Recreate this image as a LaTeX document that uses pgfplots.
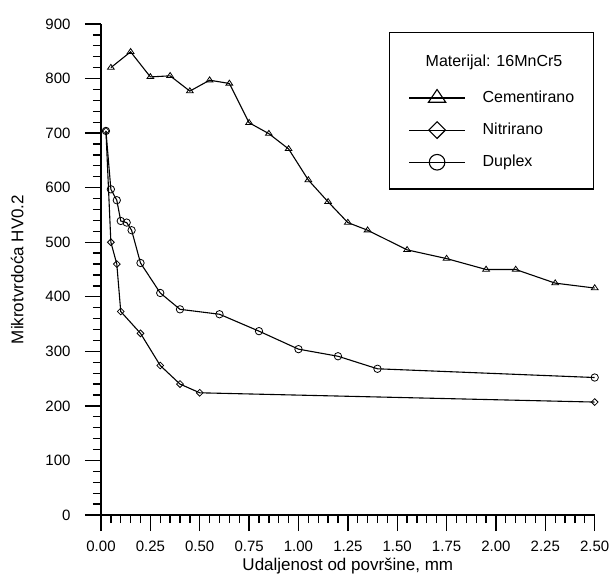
\documentclass[border=0pt]{standalone}
\usepackage{fontspec}
\setmainfont{Liberation Sans}
\usepackage{pgfplots}
\pgfplotsset{compat=1.18}

\begin{document}
\begin{tikzpicture}
% page = 613 x 576 px of the reference, axis origin at px (101,515)
\useasboundingbox (-101bp,-61bp) rectangle (512bp,515bp);
\begin{axis}[
  scale only axis,
  width=493.7bp, height=491bp,
  xmin=0, xmax=2.5, ymin=0, ymax=900,
  axis lines*=left,
  axis line style={line width=1.5bp},
  clip=false,
  xtick distance=0.25, minor x tick num=4,
  ytick distance=100, minor y tick num=4,
  tick align=outside,
  major tick length=16bp, minor tick length=8bp,
  every tick/.style={black, line width=1.3bp},
  /pgf/number format/assume math mode=true,
  xticklabel style={font=\fontsize{15bp}{17bp}\selectfont, yshift=-7bp,
    /pgf/number format/.cd, fixed, fixed zerofill, precision=2},
  yticklabel style={font=\fontsize{15bp}{17bp}\selectfont, xshift=-11bp},
  xlabel={Udaljenost od površine, mm},
  ylabel={Mikrotvrdoća HV0.2},
  label style={font=\fontsize{17bp}{19bp}\selectfont},
  xlabel style={yshift=1bp},
  ylabel style={yshift=15bp},
  legend style={at={(0.583,0.984)}, anchor=north west,
    draw=black, line width=1.3bp,
    font=\fontsize{16bp}{18bp}\selectfont,
    inner xsep=19bp, inner ysep=19bp,
    row sep=16bp,
    nodes={inner sep=0pt, text height=12bp, text depth=3.5bp},
    /tikz/every odd column/.append style={column sep=17bp}},
  legend cell align=left,
  legend image code/.code={
    \draw[mark repeat=2, mark phase=2, #1]
      plot coordinates {(0bp,0bp) (28bp,0bp) (56bp,0bp)};},
]
% legend: title row and three entries with large marks
\addlegendimage{empty legend}
\addlegendentry[text height=15bp, text depth=7bp]{\hspace{-57bp}Materijal: 16MnCr5}
\addlegendimage{black, line width=1.2bp, mark=triangle, mark size=10bp,
  mark options={fill=white, solid, line width=1.1bp, yscale=0.85}}
\addlegendentry{Cementirano}
\addlegendimage{black, line width=1.2bp, mark=square, mark size=5.9bp,
  mark options={fill=white, solid, line width=1.1bp, rotate=45}}
\addlegendentry{Nitrirano}
\addlegendimage{black, line width=1.2bp, mark=o, mark size=7.8bp,
  mark options={fill=white, solid, line width=1.1bp}}
\addlegendentry{Duplex}

% Cementirano
\addplot[black, line width=1.1bp, mark=triangle, forget plot,
  mark options={fill=white, solid, line width=0.8bp, yscale=0.85}, mark size=3.9bp]
  coordinates {
  (0.05,820) (0.15,849) (0.25,803) (0.35,805) (0.45,777) (0.55,797)
  (0.65,791) (0.75,719) (0.85,699) (0.95,671) (1.05,614) (1.15,574)
  (1.25,536) (1.35,522) (1.55,486) (1.75,470) (1.95,450) (2.10,450)
  (2.30,425) (2.50,416)};

% Nitrirano
\addplot[black, line width=1.1bp, mark=square, forget plot,
  mark options={fill=white, solid, line width=0.8bp, rotate=45}, mark size=2.4bp]
  coordinates {
  (0.025,704) (0.05,500) (0.08,460) (0.10,373) (0.20,333) (0.30,274)
  (0.40,240) (0.50,224) (2.50,207)};

% Duplex
\addplot[black, line width=1.1bp, mark=o, forget plot,
  mark options={fill=white, solid, line width=0.8bp}, mark size=3.7bp]
  coordinates {
  (0.025,704) (0.05,597) (0.08,577) (0.10,539) (0.13,536) (0.155,522)
  (0.20,462) (0.30,407) (0.40,377) (0.60,368) (0.80,337) (1.00,304)
  (1.20,291) (1.40,268) (2.50,252)};
\end{axis}
\end{tikzpicture}
\end{document}
